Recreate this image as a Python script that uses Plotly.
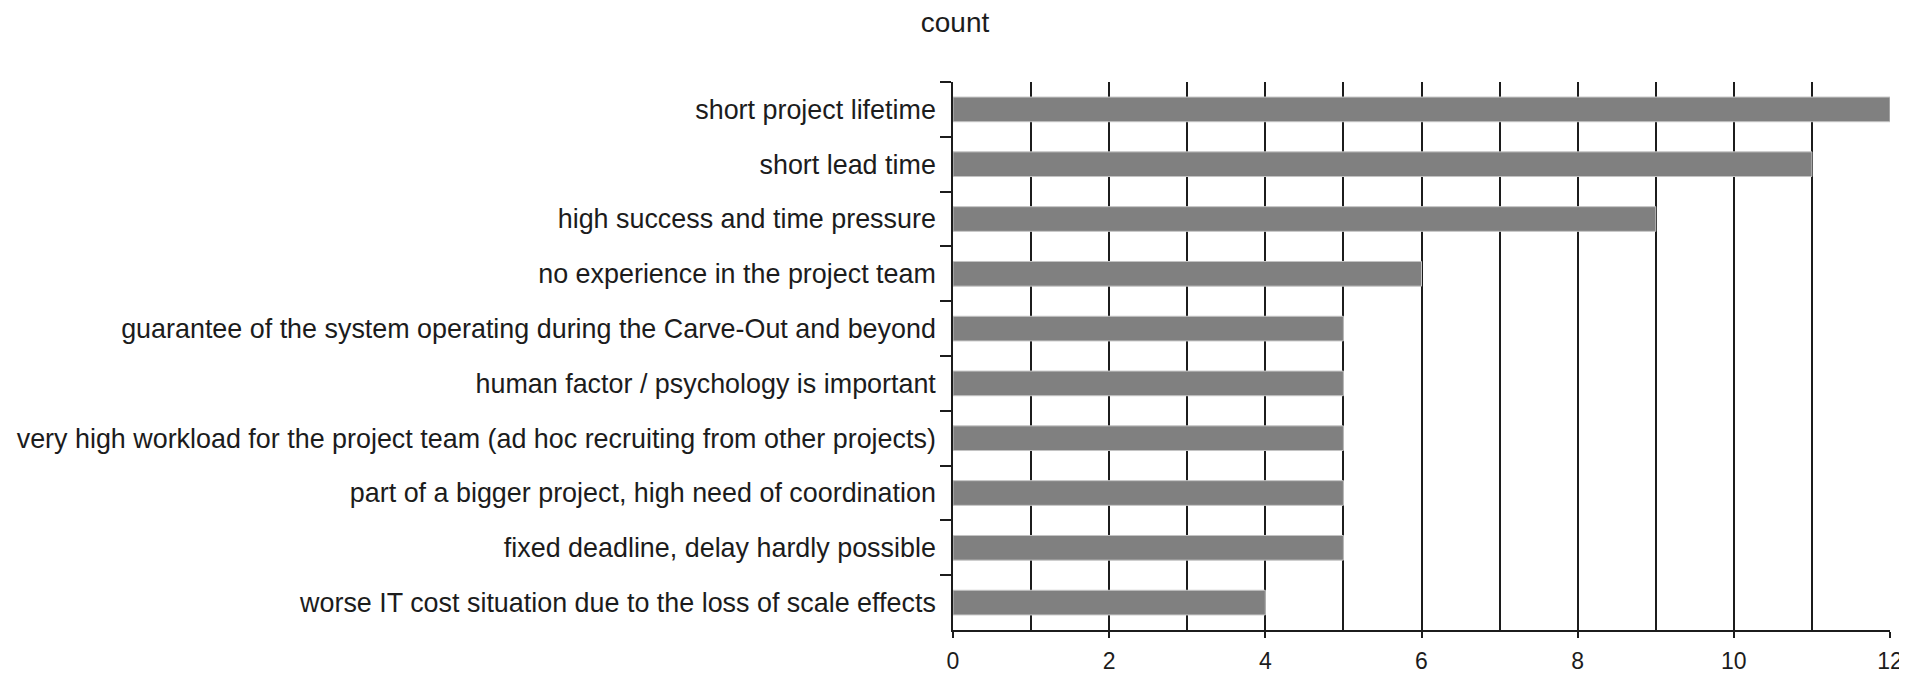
import plotly.graph_objects as go

categories = [
    "short project lifetime",
    "short lead time",
    "high success and time pressure",
    "no experience in the project team",
    "guarantee of the system operating during the Carve-Out and beyond",
    "human factor / psychology is important",
    "very high workload for the project team (ad hoc recruiting from other projects)",
    "part of a bigger project, high need of coordination",
    "fixed deadline, delay hardly possible",
    "worse IT cost situation due to the loss of scale effects",
]
counts = [12, 11, 9, 6, 5, 5, 5, 5, 5, 4]
x_ticks = [0, 2, 4, 6, 8, 10, 12]

FONT = "Liberation Sans, Arial, sans-serif"
INK = "#1c1c1c"

# page body has an 8px margin, so the figure is sized to fit the 1907x675 window
OFF = 8
W, H = 1907 - OFF, 675 - OFF

fig = go.Figure(
    go.Bar(
        x=counts,
        y=categories,
        orientation="h",
        width=0.45,
        marker=dict(color="#808080", line=dict(color="#c4c4c4", width=1)),
    )
)

fig.update_layout(
    template="none",
    width=W,
    height=H,
    margin=dict(l=953 - OFF, r=17, t=82 - OFF, b=45, autoexpand=False),
    paper_bgcolor="white",
    plot_bgcolor="white",
    showlegend=False,
    font=dict(family=FONT, color=INK, size=27),
    title=dict(
        text="count",
        x=(955 - OFF) / W,
        xanchor="center",
        xref="container",
        y=1 - (22 - OFF) / H,
        yanchor="middle",
        yref="container",
        font=dict(family=FONT, size=28, color=INK),
    ),
)

fig.update_xaxes(
    range=[0, 12],
    tickvals=x_ticks,
    ticks="outside",
    ticklen=6,
    tickwidth=1.5,
    tickcolor=INK,
    tickfont=dict(family=FONT, size=23, color=INK),
    showline=True,
    linecolor=INK,
    linewidth=1.5,
    showgrid=True,
    gridcolor=INK,
    gridwidth=1.5,
    zeroline=False,
    automargin=False,
    minor=dict(dtick=1, showgrid=True, gridcolor=INK, gridwidth=1.5, ticks=""),
    ticklabelstandoff=4,
)

fig.update_yaxes(
    categoryorder="array",
    categoryarray=categories,
    autorange="reversed",
    tickson="boundaries",
    ticks="outside",
    ticklen=11,
    tickwidth=1.5,
    tickcolor=INK,
    tickfont=dict(family=FONT, size=26.9, color=INK),
    showline=True,
    linecolor=INK,
    linewidth=1.5,
    showgrid=False,
    zeroline=False,
    automargin=False,
    ticklabelstandoff=10,
)

fig.write_html("out.html")
